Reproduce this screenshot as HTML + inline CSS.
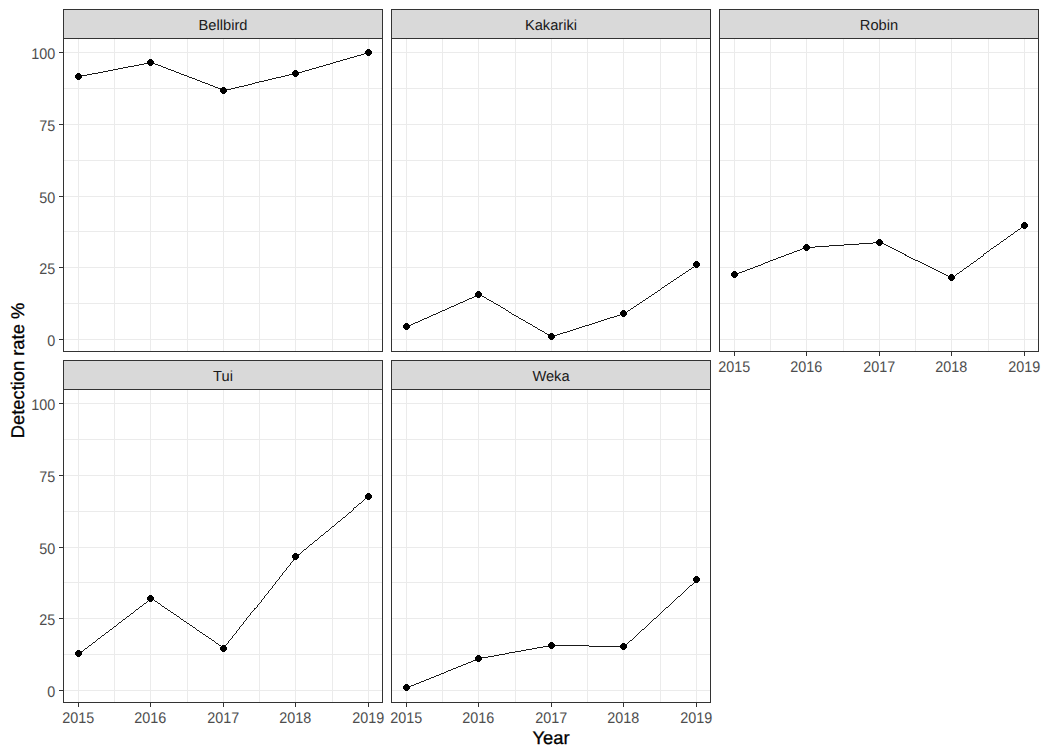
<!DOCTYPE html>
<html><head><meta charset="utf-8"><title>Detection rate</title>
<style>
html,body{margin:0;padding:0;background:#fff;width:1047px;height:756px;overflow:hidden}
svg text{font-family:"Liberation Sans",sans-serif;text-rendering:geometricPrecision}
</style></head><body>
<svg width="1047" height="756" viewBox="0 0 1047 756" style="display:block"><rect width="1047" height="756" fill="#FFFFFF"/><path d="M114.5 38V352M187.5 38V352M259.5 38V352M332.5 38V352M63 303.5H383M63 231.5H383M63 160.5H383M63 88.5H383M78.5 38V352M150.5 38V352M223.5 38V352M295.5 38V352M368.5 38V352M63 339.5H383M63 267.5H383M63 196.5H383M63 124.5H383M63 52.5H383" stroke="#EBEBEB" stroke-width="1" fill="none" shape-rendering="crispEdges"/><polyline points="78.5,76.5 150.5,62.5 223.5,90.5 295.5,73.5 368.5,52.5" stroke="#000" stroke-width="0.9" fill="none" shape-rendering="crispEdges"/><path d="M77 73H80V74H81V75H82V78H81V79H80V80H77V79H76V78H75V75H76V74H77ZM149 59H152V60H153V61H154V64H153V65H152V66H149V65H148V64H147V61H148V60H149ZM222 87H225V88H226V89H227V92H226V93H225V94H222V93H221V92H220V89H221V88H222ZM294 70H297V71H298V72H299V75H298V76H297V77H294V76H293V75H292V72H293V71H294ZM367 49H370V50H371V51H372V54H371V55H370V56H367V55H366V54H365V51H366V50H367Z" fill="#000" shape-rendering="crispEdges"/><rect x="63.5" y="38.5" width="319" height="313" fill="none" stroke="#333333" stroke-width="1.2" shape-rendering="crispEdges"/><rect x="63.5" y="9.5" width="319" height="29" fill="#D9D9D9" stroke="#333333" stroke-width="1.2" shape-rendering="crispEdges"/><text x="223.0" y="30" fill="#1A1A1A" font-size="14.67" text-anchor="middle">Bellbird</text><path d="M442.5 38V352M515.5 38V352M587.5 38V352M660.5 38V352M391 303.5H711M391 231.5H711M391 160.5H711M391 88.5H711M406.5 38V352M478.5 38V352M551.5 38V352M623.5 38V352M696.5 38V352M391 339.5H711M391 267.5H711M391 196.5H711M391 124.5H711M391 52.5H711" stroke="#EBEBEB" stroke-width="1" fill="none" shape-rendering="crispEdges"/><polyline points="406.5,326.5 478.5,294.5 551.5,336.5 623.5,313.5 696.5,264.5" stroke="#000" stroke-width="0.9" fill="none" shape-rendering="crispEdges"/><path d="M405 323H408V324H409V325H410V328H409V329H408V330H405V329H404V328H403V325H404V324H405ZM477 291H480V292H481V293H482V296H481V297H480V298H477V297H476V296H475V293H476V292H477ZM550 333H553V334H554V335H555V338H554V339H553V340H550V339H549V338H548V335H549V334H550ZM622 310H625V311H626V312H627V315H626V316H625V317H622V316H621V315H620V312H621V311H622ZM695 261H698V262H699V263H700V266H699V267H698V268H695V267H694V266H693V263H694V262H695Z" fill="#000" shape-rendering="crispEdges"/><rect x="391.5" y="38.5" width="319" height="313" fill="none" stroke="#333333" stroke-width="1.2" shape-rendering="crispEdges"/><rect x="391.5" y="9.5" width="319" height="29" fill="#D9D9D9" stroke="#333333" stroke-width="1.2" shape-rendering="crispEdges"/><text x="551.0" y="30" fill="#1A1A1A" font-size="14.67" text-anchor="middle">Kakariki</text><path d="M770.5 38V352M843.5 38V352M915.5 38V352M988.5 38V352M719 303.5H1039M719 231.5H1039M719 160.5H1039M719 88.5H1039M734.5 38V352M806.5 38V352M879.5 38V352M951.5 38V352M1024.5 38V352M719 339.5H1039M719 267.5H1039M719 196.5H1039M719 124.5H1039M719 52.5H1039" stroke="#EBEBEB" stroke-width="1" fill="none" shape-rendering="crispEdges"/><polyline points="734.5,274.5 806.5,247.5 879.5,242.5 951.5,277.5 1024.5,225.5" stroke="#000" stroke-width="0.9" fill="none" shape-rendering="crispEdges"/><path d="M733 271H736V272H737V273H738V276H737V277H736V278H733V277H732V276H731V273H732V272H733ZM805 244H808V245H809V246H810V249H809V250H808V251H805V250H804V249H803V246H804V245H805ZM878 239H881V240H882V241H883V244H882V245H881V246H878V245H877V244H876V241H877V240H878ZM950 274H953V275H954V276H955V279H954V280H953V281H950V280H949V279H948V276H949V275H950ZM1023 222H1026V223H1027V224H1028V227H1027V228H1026V229H1023V228H1022V227H1021V224H1022V223H1023Z" fill="#000" shape-rendering="crispEdges"/><rect x="719.5" y="38.5" width="319" height="313" fill="none" stroke="#333333" stroke-width="1.2" shape-rendering="crispEdges"/><rect x="719.5" y="9.5" width="319" height="29" fill="#D9D9D9" stroke="#333333" stroke-width="1.2" shape-rendering="crispEdges"/><text x="879.0" y="30" fill="#1A1A1A" font-size="14.67" text-anchor="middle">Robin</text><path d="M114.5 389V703M187.5 389V703M259.5 389V703M332.5 389V703M63 654.5H383M63 582.5H383M63 511.5H383M63 439.5H383M78.5 389V703M150.5 389V703M223.5 389V703M295.5 389V703M368.5 389V703M63 690.5H383M63 618.5H383M63 547.5H383M63 475.5H383M63 403.5H383" stroke="#EBEBEB" stroke-width="1" fill="none" shape-rendering="crispEdges"/><polyline points="78.5,653.5 150.5,598.5 223.5,648.5 295.5,556.5 368.5,496.5" stroke="#000" stroke-width="0.9" fill="none" shape-rendering="crispEdges"/><path d="M77 650H80V651H81V652H82V655H81V656H80V657H77V656H76V655H75V652H76V651H77ZM149 595H152V596H153V597H154V600H153V601H152V602H149V601H148V600H147V597H148V596H149ZM222 645H225V646H226V647H227V650H226V651H225V652H222V651H221V650H220V647H221V646H222ZM294 553H297V554H298V555H299V558H298V559H297V560H294V559H293V558H292V555H293V554H294ZM367 493H370V494H371V495H372V498H371V499H370V500H367V499H366V498H365V495H366V494H367Z" fill="#000" shape-rendering="crispEdges"/><rect x="63.5" y="389.5" width="319" height="313" fill="none" stroke="#333333" stroke-width="1.2" shape-rendering="crispEdges"/><rect x="63.5" y="360.5" width="319" height="29" fill="#D9D9D9" stroke="#333333" stroke-width="1.2" shape-rendering="crispEdges"/><text x="223.0" y="381" fill="#1A1A1A" font-size="14.67" text-anchor="middle">Tui</text><path d="M442.5 389V703M515.5 389V703M587.5 389V703M660.5 389V703M391 654.5H711M391 582.5H711M391 511.5H711M391 439.5H711M406.5 389V703M478.5 389V703M551.5 389V703M623.5 389V703M696.5 389V703M391 690.5H711M391 618.5H711M391 547.5H711M391 475.5H711M391 403.5H711" stroke="#EBEBEB" stroke-width="1" fill="none" shape-rendering="crispEdges"/><polyline points="406.5,687.5 478.5,658.5 551.5,645.5 623.5,646.5 696.5,579.5" stroke="#000" stroke-width="0.9" fill="none" shape-rendering="crispEdges"/><path d="M405 684H408V685H409V686H410V689H409V690H408V691H405V690H404V689H403V686H404V685H405ZM477 655H480V656H481V657H482V660H481V661H480V662H477V661H476V660H475V657H476V656H477ZM550 642H553V643H554V644H555V647H554V648H553V649H550V648H549V647H548V644H549V643H550ZM622 643H625V644H626V645H627V648H626V649H625V650H622V649H621V648H620V645H621V644H622ZM695 576H698V577H699V578H700V581H699V582H698V583H695V582H694V581H693V578H694V577H695Z" fill="#000" shape-rendering="crispEdges"/><rect x="391.5" y="389.5" width="319" height="313" fill="none" stroke="#333333" stroke-width="1.2" shape-rendering="crispEdges"/><rect x="391.5" y="360.5" width="319" height="29" fill="#D9D9D9" stroke="#333333" stroke-width="1.2" shape-rendering="crispEdges"/><text x="551.0" y="381" fill="#1A1A1A" font-size="14.67" text-anchor="middle">Weka</text><path d="M59 339.5H63M59 267.5H63M59 196.5H63M59 124.5H63M59 52.5H63" stroke="#333333" stroke-width="1.2" fill="none" shape-rendering="crispEdges"/><text transform="translate(55.3,346) scale(0.98,1.05)" fill="#4D4D4D" font-size="14.67" text-anchor="end">0</text><text transform="translate(55.3,274) scale(0.98,1.05)" fill="#4D4D4D" font-size="14.67" text-anchor="end">25</text><text transform="translate(55.3,203) scale(0.98,1.05)" fill="#4D4D4D" font-size="14.67" text-anchor="end">50</text><text transform="translate(55.3,131) scale(0.98,1.05)" fill="#4D4D4D" font-size="14.67" text-anchor="end">75</text><text transform="translate(55.3,59) scale(0.98,1.05)" fill="#4D4D4D" font-size="14.67" text-anchor="end">100</text><path d="M59 690.5H63M59 618.5H63M59 547.5H63M59 475.5H63M59 403.5H63" stroke="#333333" stroke-width="1.2" fill="none" shape-rendering="crispEdges"/><text transform="translate(55.3,697) scale(0.98,1.05)" fill="#4D4D4D" font-size="14.67" text-anchor="end">0</text><text transform="translate(55.3,625) scale(0.98,1.05)" fill="#4D4D4D" font-size="14.67" text-anchor="end">25</text><text transform="translate(55.3,554) scale(0.98,1.05)" fill="#4D4D4D" font-size="14.67" text-anchor="end">50</text><text transform="translate(55.3,482) scale(0.98,1.05)" fill="#4D4D4D" font-size="14.67" text-anchor="end">75</text><text transform="translate(55.3,410) scale(0.98,1.05)" fill="#4D4D4D" font-size="14.67" text-anchor="end">100</text><path d="M78.5 702V707M150.5 702V707M223.5 702V707M295.5 702V707M368.5 702V707" stroke="#333333" stroke-width="1.2" fill="none" shape-rendering="crispEdges"/><text transform="translate(78.2,723) scale(0.98,1.05)" fill="#4D4D4D" font-size="14.67" text-anchor="middle">2015</text><text transform="translate(150.2,723) scale(0.98,1.05)" fill="#4D4D4D" font-size="14.67" text-anchor="middle">2016</text><text transform="translate(223.2,723) scale(0.98,1.05)" fill="#4D4D4D" font-size="14.67" text-anchor="middle">2017</text><text transform="translate(295.2,723) scale(0.98,1.05)" fill="#4D4D4D" font-size="14.67" text-anchor="middle">2018</text><text transform="translate(368.2,723) scale(0.98,1.05)" fill="#4D4D4D" font-size="14.67" text-anchor="middle">2019</text><path d="M406.5 702V707M478.5 702V707M551.5 702V707M623.5 702V707M696.5 702V707" stroke="#333333" stroke-width="1.2" fill="none" shape-rendering="crispEdges"/><text transform="translate(406.2,723) scale(0.98,1.05)" fill="#4D4D4D" font-size="14.67" text-anchor="middle">2015</text><text transform="translate(478.2,723) scale(0.98,1.05)" fill="#4D4D4D" font-size="14.67" text-anchor="middle">2016</text><text transform="translate(551.2,723) scale(0.98,1.05)" fill="#4D4D4D" font-size="14.67" text-anchor="middle">2017</text><text transform="translate(623.2,723) scale(0.98,1.05)" fill="#4D4D4D" font-size="14.67" text-anchor="middle">2018</text><text transform="translate(696.2,723) scale(0.98,1.05)" fill="#4D4D4D" font-size="14.67" text-anchor="middle">2019</text><path d="M734.5 351V356M806.5 351V356M879.5 351V356M951.5 351V356M1024.5 351V356" stroke="#333333" stroke-width="1.2" fill="none" shape-rendering="crispEdges"/><text transform="translate(734.2,372) scale(0.98,1.05)" fill="#4D4D4D" font-size="14.67" text-anchor="middle">2015</text><text transform="translate(806.2,372) scale(0.98,1.05)" fill="#4D4D4D" font-size="14.67" text-anchor="middle">2016</text><text transform="translate(879.2,372) scale(0.98,1.05)" fill="#4D4D4D" font-size="14.67" text-anchor="middle">2017</text><text transform="translate(951.2,372) scale(0.98,1.05)" fill="#4D4D4D" font-size="14.67" text-anchor="middle">2018</text><text transform="translate(1024.2,372) scale(0.98,1.05)" fill="#4D4D4D" font-size="14.67" text-anchor="middle">2019</text><text x="551" y="744" fill="#000" stroke="#000" stroke-width="0.3" font-size="18.33" text-anchor="middle">Year</text><text transform="translate(24,370.5) rotate(-90)" x="0" y="0" fill="#000" stroke="#000" stroke-width="0.3" font-size="18.33" text-anchor="middle">Detection rate %</text></svg>
</body></html>
